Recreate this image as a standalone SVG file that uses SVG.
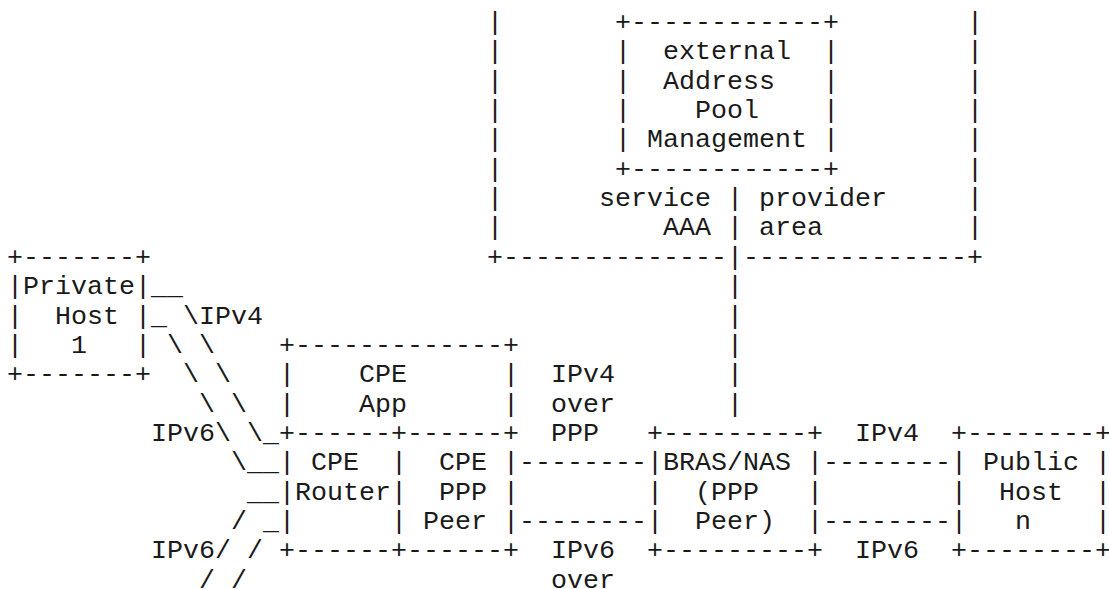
<svg xmlns="http://www.w3.org/2000/svg" width="1109" height="589" viewBox="0 0 1109 589" xml:space="preserve">
  <style>
    text { font-family: 'Courier New', 'Liberation Mono', monospace; font-size: 26.667px; fill: #1a1a1a; white-space: pre; }
  </style>
  <!-- grid: column c starts at x = 7 + 16c, row r baseline at y = 30 + 29.35r -->
  <rect width="1109" height="589" fill="#fff"/>

  <g id="provider-area">
    <text x="487" y="30">|</text><text x="967" y="30">|</text>
    <text x="487" y="59.35">|</text><text x="967" y="59.35">|</text>
    <text x="487" y="88.7">|</text><text x="967" y="88.7">|</text>
    <text x="487" y="118.05">|</text><text x="967" y="118.05">|</text>
    <text x="487" y="147.4">|</text><text x="967" y="147.4">|</text>
    <text x="487" y="176.75">|</text><text x="967" y="176.75">|</text>
    <text x="487" y="206.1">|</text><text x="599" y="206.1">service | provider</text><text x="967" y="206.1">|</text>
    <text x="487" y="235.45">|</text><text x="663" y="235.45">AAA | area</text><text x="967" y="235.45">|</text>
    <text x="487" y="264.8">+--------------|--------------+</text>
  </g>

  <g id="address-pool">
    <text x="615" y="30">+------------+</text>
    <text x="615" y="59.35">|  external  |</text>
    <text x="615" y="88.7">|  Address   |</text>
    <text x="615" y="118.05">|    Pool    |</text>
    <text x="615" y="147.4">| Management |</text>
    <text x="615" y="176.75">+------------+</text>
  </g>

  <g id="private-host">
    <text x="7" y="264.8">+-------+</text>
    <text x="7" y="294.15">|Private|</text>
    <text x="7" y="323.5">|  Host |</text>
    <text x="7" y="352.85">|   1   |</text>
    <text x="7" y="382.2">+-------+</text>
  </g>

  <g id="cpe-app">
    <text x="279" y="352.85">+-------------+</text>
    <text x="279" y="382.2">|    CPE      |</text>
    <text x="279" y="411.55">|    App      |</text>
    <text x="279" y="440.9">+------+------+</text>
  </g>

  <g id="cpe-router">
    <text x="279" y="470.25">| CPE  </text>
    <text x="279" y="499.6">|Router</text>
    <text x="279" y="528.95">|      </text>
    <text x="279" y="558.3">+------</text>
  </g>

  <g id="cpe-ppp-peer">
    <text x="391" y="470.25">|  CPE |</text>
    <text x="391" y="499.6">|  PPP |</text>
    <text x="391" y="528.95">| Peer |</text>
    <text x="391" y="558.3">+------+</text>
  </g>

  <g id="bras-nas">
    <text x="647" y="440.9">+---------+</text>
    <text x="647" y="470.25">|BRAS/NAS |</text>
    <text x="647" y="499.6">|  (PPP   |</text>
    <text x="647" y="528.95">|  Peer)  |</text>
    <text x="647" y="558.3">+---------+</text>
  </g>

  <g id="public-host">
    <text x="951" y="440.9">+--------+</text>
    <text x="951" y="470.25">| Public |</text>
    <text x="951" y="499.6">|  Host  |</text>
    <text x="951" y="528.95">|   n    |</text>
    <text x="951" y="558.3">+--------+</text>
  </g>

  <g id="connectors">
    <!-- host 1 to CPE router, IPv4 and IPv6 paths -->
    <text x="151" y="294.15">__</text>
    <text x="151" y="323.5">_ \</text>
    <text x="167" y="352.85">\ \</text>
    <text x="183" y="382.2">\ \</text>
    <text x="199" y="411.55">\ \</text>
    <text x="215" y="440.9">\ \_</text>
    <text x="231" y="470.25">\__</text>
    <text x="247" y="499.6">__</text>
    <text x="231" y="528.95">/ _</text>
    <text x="215" y="558.3">/ /</text>
    <text x="199" y="587.65">/ /</text>
    <!-- AAA link down to BRAS -->
    <text x="727" y="294.15">|</text>
    <text x="727" y="323.5">|</text>
    <text x="727" y="352.85">|</text>
    <text x="727" y="382.2">|</text>
    <text x="727" y="411.55">|</text>
    <!-- CPE to BRAS, BRAS to public host -->
    <text x="519" y="470.25">--------</text>
    <text x="519" y="528.95">--------</text>
    <text x="823" y="470.25">--------</text>
    <text x="823" y="528.95">--------</text>
  </g>

  <g id="link-labels">
    <text x="199" y="323.5">IPv4</text>
    <text x="151" y="440.9">IPv6</text>
    <text x="151" y="558.3">IPv6</text>
    <text x="551" y="382.2">IPv4</text>
    <text x="551" y="411.55">over</text>
    <text x="551" y="440.9">PPP</text>
    <text x="551" y="558.3">IPv6</text>
    <text x="551" y="587.65">over</text>
    <text x="855" y="440.9">IPv4</text>
    <text x="855" y="558.3">IPv6</text>
  </g>
</svg>
